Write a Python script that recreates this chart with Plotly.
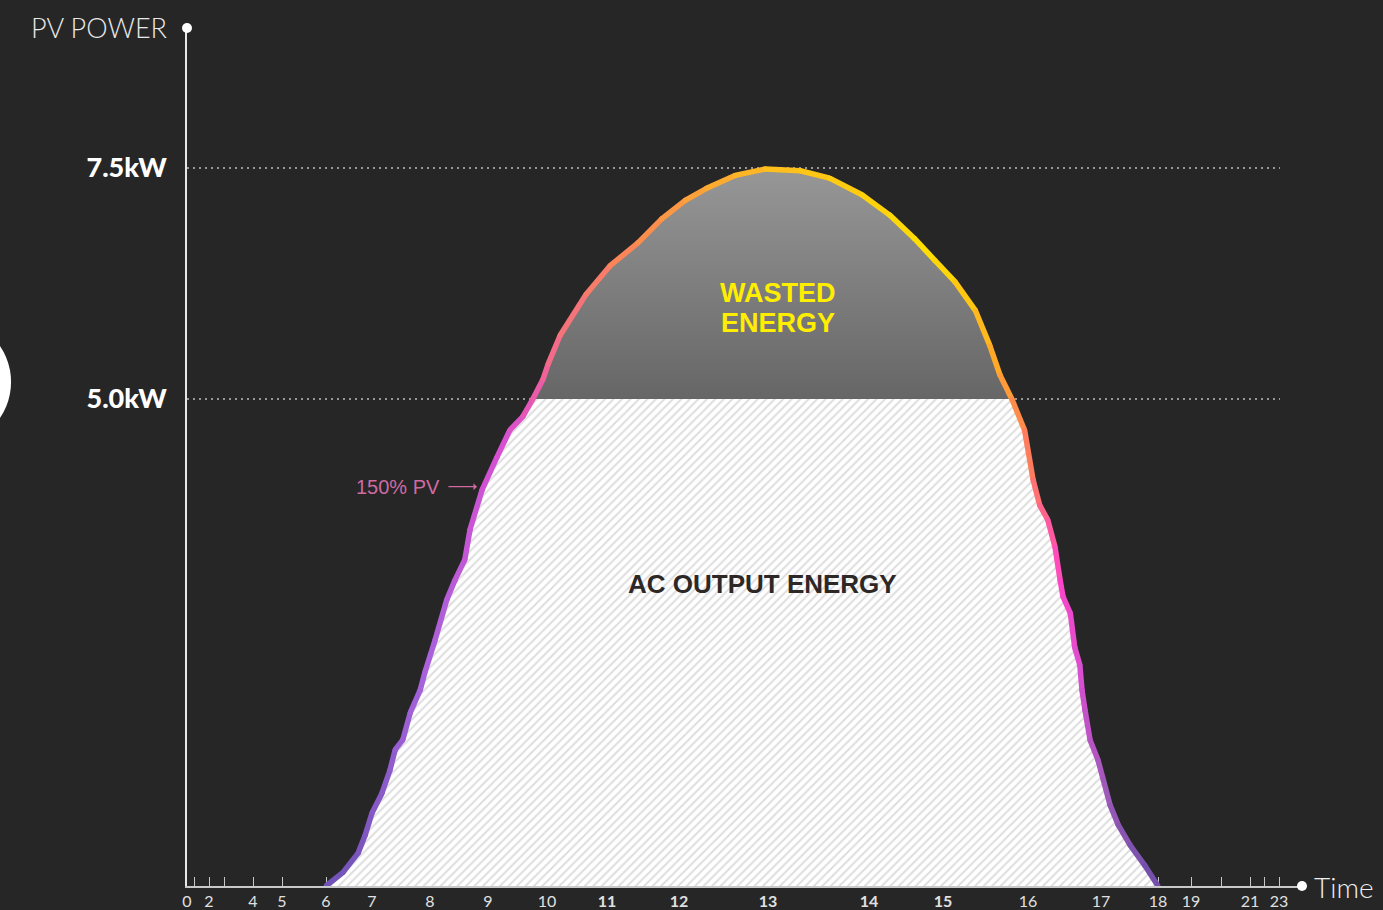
import numpy as np
import plotly.graph_objects as go
from plotly.colors import sample_colorscale

# ---------------- data ----------------
# PV power curve (hour of day, kW)
hours = [6.00, 6.37, 6.70, 6.85, 7.00, 7.17, 7.31, 7.40, 7.53, 7.66, 7.83, 7.91, 8.09, 8.29,
         8.43, 8.60, 8.69, 8.90, 9.15, 9.37, 9.59, 9.76, 9.93, 10.02, 10.22, 10.65, 11.04,
         11.43, 11.76, 12.07, 12.31, 12.63, 12.97, 13.32, 13.61, 13.93, 14.28, 14.61, 14.89,
         15.14, 15.38, 15.55, 15.67, 15.81, 15.96, 16.07, 16.16, 16.27, 16.37, 16.44, 16.48,
         16.58, 16.64, 16.71, 16.74, 16.78, 16.85, 16.96, 17.04, 17.16, 17.30, 17.51, 17.77, 18.00]
pv_kw = [0, 0.14, 0.34, 0.52, 0.75, 0.95, 1.19, 1.40, 1.50, 1.78, 2.01, 2.19, 2.53, 2.94,
         3.14, 3.35, 3.66, 4.07, 4.40, 4.68, 4.82, 5.00, 5.21, 5.38, 5.69, 6.13, 6.44,
         6.69, 6.95, 7.15, 7.28, 7.42, 7.49, 7.47, 7.39, 7.21, 6.99, 6.74, 6.50,
         6.27, 5.96, 5.58, 5.26, 5.00, 4.68, 4.17, 3.91, 3.76, 3.48, 3.14, 2.97,
         2.80, 2.45, 2.27, 2.01, 1.81, 1.50, 1.29, 1.09, 0.83, 0.63, 0.42, 0.21, 0]
assert len(hours) == len(pv_kw)

inverter_kw = 5.0          # AC limit
peak_kw = 7.5

# axis ticks
tick_hours = list(range(24))
tick_labels = ["0", "", "2", "", "4", "5", "6", "7", "8", "9", "10", "<b>11</b>", "<b>12</b>",
               "<b>13</b>", "<b>14</b>", "<b>15</b>", "16", "17", "18", "19", "", "21", "", "23"]
y_tick_kw = [5.0, 7.5]
y_tick_labels = ["5.0kW", "7.5kW"]

# ---------------- non-linear axis scales (illustrative chart) ----------------
hour_scale_units = [0, 7, 22, 37, 66, 95, 139, 185, 243, 301, 360, 420, 492, 581, 682, 756,
                    841, 914, 971, 1004, 1034, 1063, 1077, 1092]
x_axis_end = 1115
kw_scale = [0, 5.0, 7.5]
kw_scale_units = [0, 487, 718]
y_axis_end = 858


def hx(h):
    return np.interp(h, tick_hours, hour_scale_units)


def ky(k):
    return np.interp(k, kw_scale, kw_scale_units)


xu = hx(np.array(hours))
yu = ky(np.array(pv_kw))
clip_u = ky(inverter_kw)

BG = "#262626"
fig = go.Figure()

# AC output energy (hatched)
fig.add_trace(go.Scatter(
    x=xu, y=np.minimum(yu, clip_u), mode="lines", line=dict(width=0),
    fill="tozeroy", fillcolor="white",
    fillpattern=dict(shape="/", fgcolor="#bcbcbc", bgcolor="white", size=6, solidity=0.33),
    hoverinfo="skip", showlegend=False))

# wasted energy (gray gradient)
mask = np.array(pv_kw) >= inverter_kw
fig.add_trace(go.Scatter(
    x=xu[mask], y=yu[mask], mode="lines", line=dict(width=0), fill="toself",
    fillgradient=dict(type="vertical", start=clip_u, stop=ky(peak_kw),
                      colorscale=[[0, "#666666"], [1, "#979797"]]),
    hoverinfo="skip", showlegend=False))

# gradient curve, segment by segment
line_scale = [[0.00, "#6f52b5"], [0.17, "#a663dc"], [0.30, "#d94fd0"], [0.35, "#ee5fa0"],
              [0.43, "#fb8a50"], [0.52, "#ffc21a"], [0.60, "#ffe000"], [0.66, "#ffa828"],
              [0.71, "#ff7a60"], [0.78, "#ff45c8"], [0.85, "#d84fd0"], [0.93, "#9c5ab8"],
              [1.00, "#6f4fa8"]]
n = len(xu)
for i in range(n - 1):
    t = (i + 0.5) / (n - 1)
    c = sample_colorscale(line_scale, [t])[0]
    fig.add_trace(go.Scatter(
        x=xu[i:i + 2], y=yu[i:i + 2], mode="lines+markers",
        line=dict(color=c, width=5.5), marker=dict(color=c, size=5),
        hoverinfo="skip", showlegend=False))

# axis end dots
fig.add_trace(go.Scatter(x=[0], y=[y_axis_end], mode="markers",
                         marker=dict(color="white", size=10), cliponaxis=False,
                         hoverinfo="skip", showlegend=False))
fig.add_trace(go.Scatter(x=[x_axis_end], y=[0], mode="markers",
                         marker=dict(color="white", size=10), cliponaxis=False,
                         hoverinfo="skip", showlegend=False))

# dotted reference lines
for k in y_tick_kw:
    fig.add_shape(type="line", xref="x", yref="y", x0=0, x1=float(hx(23)) + 1,
                  y0=float(ky(k)), y1=float(ky(k)), layer="below",
                  line=dict(color="#bdbdbd", width=1.5, dash="2px,4px"))

# decorative partial circle on the left edge
fig.add_shape(type="circle", xref="paper", yref="paper",
              x0=-0.2726, x1=-0.1578, y0=0.5128, y1=0.662,
              fillcolor="white", line=dict(width=0), layer="above")

# annotations
fig.add_annotation(text="PV POWER", xref="paper", yref="paper", x=0, y=1,
                   xanchor="right", yanchor="middle", xshift=-18, yshift=1, showarrow=False,
                   font=dict(family="Lato", size=27, color="#e8e8e8", weight=300))
fig.add_annotation(text="Time", xref="paper", yref="paper", x=1, y=0,
                   xanchor="left", yanchor="middle", xshift=10, yshift=-1, showarrow=False,
                   font=dict(family="Lato", size=28, color="#f0f0f0", weight=300))
fig.add_annotation(text="WASTED", x=float(hx(13.1)), y=float(ky(6.15)), showarrow=False,
                   font=dict(family="Liberation Sans", size=27, color="#ffee00", weight="bold"))
fig.add_annotation(text="ENERGY", x=float(hx(13.1)), y=float(ky(5.82)), showarrow=False,
                   font=dict(family="Liberation Sans", size=27, color="#ffee00", weight="bold"))
fig.add_annotation(text="AC OUTPUT ENERGY", x=float(hx(12.94)), y=float(ky(3.10)),
                   showarrow=False,
                   font=dict(family="Liberation Sans", size=26, color="#2d2826", weight="bold"))
fig.add_annotation(text="150% PV", x=float(hx(8.2)), y=float(ky(4.10)), xanchor="right",
                   yanchor="middle", showarrow=False,
                   font=dict(family="Liberation Sans", size=20, color="#cf6aa2"))
fig.add_annotation(text="", x=float(hx(8.81)), y=float(ky(4.10)), ax=-30, ay=0,
                   showarrow=True, arrowhead=1, arrowsize=0.9, arrowwidth=1.3,
                   arrowcolor="#cf6aa2")

fig.update_layout(
    width=1383, height=910,
    margin=dict(l=187, r=81, t=28, b=24, autoexpand=False),
    paper_bgcolor=BG, plot_bgcolor=BG,
    showlegend=False,
    xaxis=dict(range=[0, x_axis_end], showgrid=False, zeroline=False, automargin=False,
               showline=True, linecolor="#c8c8c8", linewidth=2,
               tickvals=list(hx(np.array(tick_hours))), ticktext=tick_labels,
               ticks="inside", ticklen=9, tickwidth=1.3, tickcolor="#c8c8c8",
               tickfont=dict(family="Lato", size=16, color="#e0e0e0"),
               layer="below traces", fixedrange=True),
    yaxis=dict(range=[0, y_axis_end], showgrid=False, zeroline=False, automargin=False,
               showline=True, linecolor="#e6e6e6", linewidth=1.5,
               tickvals=list(ky(np.array(y_tick_kw))), ticktext=y_tick_labels,
               ticks="", ticklabelstandoff=13,
               tickfont=dict(family="Lato", size=27, color="white", weight=900),
               layer="below traces", fixedrange=True),
)

fig.write_html("out.html", config={"displayModeBar": False},
               post_script="document.body.style.margin='0px';"
                           "document.body.style.background='#262626';"
                           "document.body.style.overflow='hidden';")
